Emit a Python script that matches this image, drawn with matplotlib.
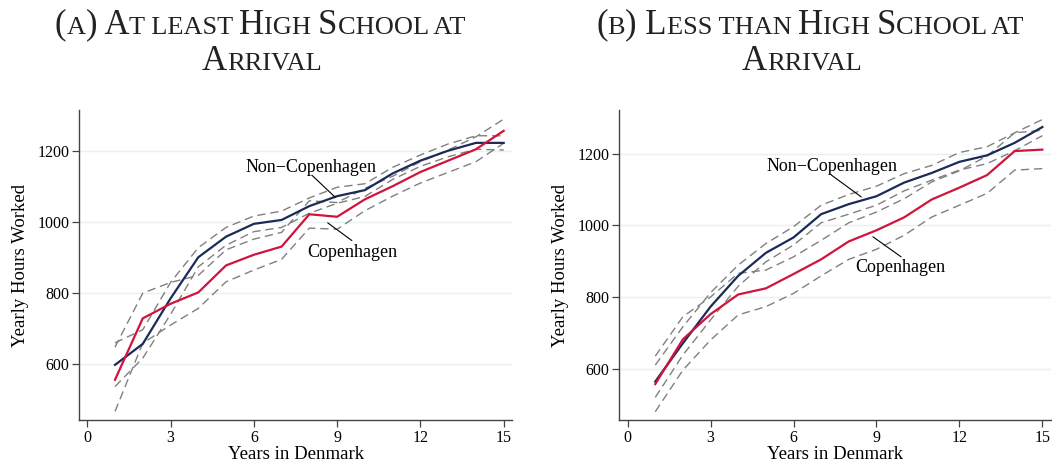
import matplotlib
matplotlib.use("Agg")
import matplotlib.pyplot as plt
from matplotlib.offsetbox import TextArea, HPacker, AnchoredOffsetbox

plt.rcParams['font.family'] = ['Liberation Serif', 'DejaVu Serif']

years = list(range(1, 16))

# panel A: at least high school at arrival
a_noncph = [598, 657, 785, 901, 959, 995, 1006, 1045, 1073, 1090, 1137, 1173, 1201, 1223, 1223]
a_noncph_lo = [537, 617, 740, 874, 935, 973, 985, 1025, 1053, 1072, 1120, 1157, 1184, 1205, 1203]
a_noncph_hi = [660, 697, 830, 928, 985, 1017, 1031, 1068, 1098, 1108, 1154, 1189, 1220, 1243, 1243]
a_cph = [556, 729, 770, 802, 878, 908, 931, 1022, 1015, 1064, 1101, 1141, 1173, 1205, 1257]
a_cph_lo = [467, 659, 710, 757, 832, 865, 895, 983, 980, 1032, 1073, 1110, 1140, 1170, 1222]
a_cph_hi = [648, 800, 830, 850, 922, 952, 971, 1060, 1055, 1095, 1129, 1170, 1203, 1240, 1290]

# panel B: less than high school at arrival
b_noncph = [564, 671, 773, 859, 923, 966, 1031, 1059, 1081, 1119, 1146, 1177, 1195, 1230, 1274]
b_noncph_lo = [520, 638, 736, 830, 898, 945, 1007, 1031, 1056, 1096, 1126, 1154, 1172, 1208, 1250]
b_noncph_hi = [610, 717, 812, 889, 949, 996, 1056, 1086, 1109, 1144, 1167, 1203, 1219, 1258, 1295]
b_cph = [557, 682, 752, 807, 824, 864, 905, 955, 986, 1022, 1072, 1105, 1140, 1207, 1211]
b_cph_lo = [480, 596, 680, 750, 773, 810, 859, 905, 933, 972, 1023, 1056, 1089, 1154, 1158]
b_cph_hi = [635, 745, 800, 866, 875, 912, 958, 1007, 1037, 1074, 1121, 1152, 1193, 1258, 1265]

x_ticks = [0, 3, 6, 9, 12, 15]
y_ticks = [600, 800, 1000, 1200]

navy = '#1b2a57'
red = '#d0143c'
dash_col = '#808080'
grid_col = '#e8f0f0'


def small_caps(fig, text, x, y, size=25):
    # fake small caps: lowercase letters become smaller capitals
    parts = []
    run = ''
    run_small = None
    for ch in text:
        is_small = ch.islower()
        if ch == ' ':
            is_small = run_small if run_small is not None else False
        if run_small is None or is_small == run_small:
            run += ch
        else:
            parts.append((run, run_small))
            run = ch
        run_small = is_small
    parts.append((run, run_small))
    boxes = []
    for s, sm in parts:
        fs = size * 0.76 if sm else size
        boxes.append(TextArea(s.upper(), textprops=dict(fontsize=fs, color='#222222')))
    pack = HPacker(children=boxes, align='baseline', pad=0, sep=0)
    ab = AnchoredOffsetbox(loc='center', child=pack, pad=0, frameon=False,
                           bbox_to_anchor=(x, y), bbox_transform=fig.transFigure, borderpad=0)
    fig.add_artist(ab)


def panel(ax, nc, nc_lo, nc_hi, c, c_lo, c_hi, ylim):
    for s in [nc_lo, nc_hi, c_lo, c_hi]:
        ax.plot(years, s, color=dash_col, lw=1.0, dashes=(6, 3.5))
    ax.plot(years, nc, color=navy, lw=1.6)
    ax.plot(years, c, color=red, lw=1.6)
    ax.set_xlim(-0.3, 15.31)
    ax.set_ylim(*ylim)
    ax.set_xticks(x_ticks)
    ax.set_yticks(y_ticks)
    for t in y_ticks:
        ax.axhline(t, color=grid_col, lw=1.0, zorder=0)
    ax.spines['top'].set_visible(False)
    ax.spines['right'].set_visible(False)
    for sp in ['left', 'bottom']:
        ax.spines[sp].set_color('#444444')
        ax.spines[sp].set_linewidth(1.0)
    ax.tick_params(direction='out', length=5, width=0.9, color='#444444',
                   labelsize=11.5, pad=2)
    ax.set_xlabel('Years in Denmark', fontsize=13.5, labelpad=0)
    ax.set_ylabel('Yearly Hours Worked', fontsize=13.5, labelpad=6)


fig = plt.figure(figsize=(10.52, 4.63), dpi=100)
ax1 = fig.add_axes([0.075, 0.093, 0.412, 0.669])
ax2 = fig.add_axes([0.5887, 0.093, 0.4103, 0.669])

panel(ax1, a_noncph, a_noncph_lo, a_noncph_hi, a_cph, a_cph_lo, a_cph_hi, (443, 1315))
panel(ax2, b_noncph, b_noncph_lo, b_noncph_hi, b_cph, b_cph_lo, b_cph_hi, (457, 1321))

# labels with leader lines
lk = dict(arrowstyle='-', lw=0.8, color='black', shrinkA=0, shrinkB=0)
ax1.text(8.07, 1154, 'Non\u2212Copenhagen', fontsize=13, ha='center', va='center')
ax1.annotate('', xy=(8.93, 1070), xytext=(8.09, 1132), arrowprops=lk)
ax1.text(9.53, 913, 'Copenhagen', fontsize=13, ha='center', va='center')
ax1.annotate('', xy=(8.66, 998), xytext=(9.53, 948), arrowprops=lk)

ax2.text(7.39, 1163, 'Non\u2212Copenhagen', fontsize=13, ha='center', va='center')
ax2.annotate('', xy=(8.45, 1079), xytext=(7.37, 1140), arrowprops=lk)
ax2.text(9.88, 882, 'Copenhagen', fontsize=13, ha='center', va='center')
ax2.annotate('', xy=(8.87, 968), xytext=(9.89, 912), arrowprops=lk)

small_caps(fig, '(a) At least High School at', 260 / 1052, 1 - 25 / 463)
small_caps(fig, 'Arrival', 262 / 1052, 1 - 61 / 463)
small_caps(fig, '(b) Less than High School at', 810 / 1052, 1 - 25 / 463)
small_caps(fig, 'Arrival', 802 / 1052, 1 - 61 / 463)

fig.savefig('out.png', dpi=100)
